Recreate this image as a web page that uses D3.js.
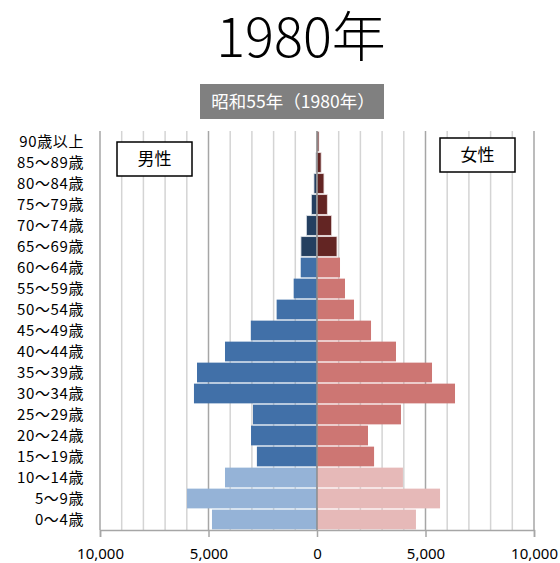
<!DOCTYPE html>
<html lang="ja">
<head>
<meta charset="UTF-8">
<title>1980年 人口ピラミッド</title>
<script src="https://d3js.org/d3.v7.min.js"></script>
<style>
    body { margin: 0; background: #fff; }
    text { font-family: "Noto Sans CJK JP", "Noto Sans", sans-serif; }
    .grid line { stroke: #d4d4d4; stroke-width: 1.5px; }
    .grid line.major { stroke: #a6a6a6; }
</style>
</head>
<body>
<svg id="chart" width="560" height="563"></svg>
<script>
    // age groups, bottom to top
    const ages = ["0～4歳", "5～9歳", "10～14歳", "15～19歳", "20～24歳", "25～29歳",
        "30～34歳", "35～39歳", "40～44歳", "45～49歳", "50～54歳", "55～59歳",
        "60～64歳", "65～69歳", "70～74歳", "75～79歳", "80～84歳", "85～89歳", "90歳以上"];
    const male = [4840, 5990, 4240, 2770, 3040, 2950, 5670, 5530, 4240, 3050,
        1860, 1075, 750, 740, 490, 260, 140, 50, 25];
    const female = [4560, 5670, 3960, 2630, 2350, 3870, 6360, 5300, 3640, 2490,
        1705, 1290, 1060, 920, 675, 475, 320, 190, 90];
    const xTicks = [-10000, -5000, 0, 5000, 10000];

    const maleColor = i => i < 3 ? "#95b3d7" : (i < 13 ? "#4170a8" : "#243f60");
    const femaleColor = i => i < 3 ? "#e6b9b8" : (i < 13 ? "#cd7673" : "#632523");

    const svg = d3.select("#chart");
    const plotL = 100, plotR = 534, plotT = 131, plotB = 530;

    const x = d3.scaleLinear().domain([-10000, 10000]).range([plotL, plotR]);
    const y = d3.scaleBand().domain(ages).range([plotB, plotT]).paddingInner(0.06).paddingOuter(0.03);

    // title
    svg.append("text")
        .attr("x", 301).attr("y", 57)
        .attr("text-anchor", "middle")
        .style("font-size", "54px")
        .style("font-weight", 300)
        .text("1980年");

    svg.append("rect")
        .attr("x", 200).attr("y", 84).attr("width", 184).attr("height", 35)
        .attr("fill", "#808080");
    svg.append("text")
        .attr("x", 293).attr("y", 107.5)
        .attr("text-anchor", "middle")
        .attr("fill", "#fff")
        .style("font-size", "17.5px")
        .text("昭和55年（1980年）");

    // gridlines every 1000
    svg.append("g").attr("class", "grid")
        .selectAll("line")
        .data(d3.range(-10000, 10001, 1000))
        .join("line")
        .attr("class", d => d % 5000 === 0 ? "major" : null)
        .attr("x1", d => x(d)).attr("x2", d => x(d))
        .attr("y1", plotT).attr("y2", plotB);

    // bars
    svg.append("g").selectAll("rect")
        .data(male)
        .join("rect")
        .attr("x", d => x(-d))
        .attr("y", (d, i) => y(ages[i]))
        .attr("width", d => x(0) - x(-d))
        .attr("height", y.bandwidth())
        .attr("fill", (d, i) => maleColor(i))
        .attr("stroke", (d, i) => i >= 13 ? "#dfe4ea" : "none")
        .attr("stroke-width", 0.8);

    svg.append("g").selectAll("rect")
        .data(female)
        .join("rect")
        .attr("x", x(0))
        .attr("y", (d, i) => y(ages[i]))
        .attr("width", d => x(d) - x(0))
        .attr("height", y.bandwidth())
        .attr("fill", (d, i) => femaleColor(i))
        .attr("stroke", (d, i) => i >= 13 ? "#eadcdc" : "none")
        .attr("stroke-width", 0.8);

    // zero line
    svg.append("line")
        .attr("x1", x(0)).attr("x2", x(0))
        .attr("y1", plotT).attr("y2", plotB)
        .attr("stroke", "#8c8c8c").attr("stroke-width", 1.5);

    // bottom axis
    const xAxis = svg.append("g")
        .attr("transform", `translate(0,${plotB})`)
        .call(d3.axisBottom(x).tickValues(xTicks).tickSize(7).tickPadding(11)
            .tickFormat(d => d3.format(",")(Math.abs(d))));
    xAxis.select(".domain").attr("stroke", "#a6a6a6").attr("stroke-width", 1.5);
    xAxis.selectAll(".tick line").attr("stroke", "#a6a6a6").attr("stroke-width", 1.5);
    xAxis.selectAll(".tick text")
        .style("font-size", "15px")
        .style("font-family", "'Noto Sans', sans-serif")
        .attr("fill", "#000");

    // left category labels
    svg.append("g").selectAll("text")
        .data(ages)
        .join("text")
        .attr("x", 84)
        .attr("y", d => y(d) + y.bandwidth() / 2)
        .attr("dy", "0.36em")
        .attr("text-anchor", "end")
        .style("font-size", "15px")
        .style("letter-spacing", "0.6px")
        .text(d => d);

    // legend boxes
    const boxes = [
        { label: "男性", x: 117, y: 142 },
        { label: "女性", x: 440, y: 138 }
    ];
    boxes.forEach(b => {
        svg.append("rect")
            .attr("x", b.x).attr("y", b.y).attr("width", 75).attr("height", 34)
            .attr("fill", "#fff").attr("stroke", "#000").attr("stroke-width", 1.5);
        svg.append("text")
            .attr("x", b.x + 37.5).attr("y", b.y + 23)
            .attr("text-anchor", "middle")
            .style("font-size", "17px")
            .text(b.label);
    });
</script>
</body>
</html>
